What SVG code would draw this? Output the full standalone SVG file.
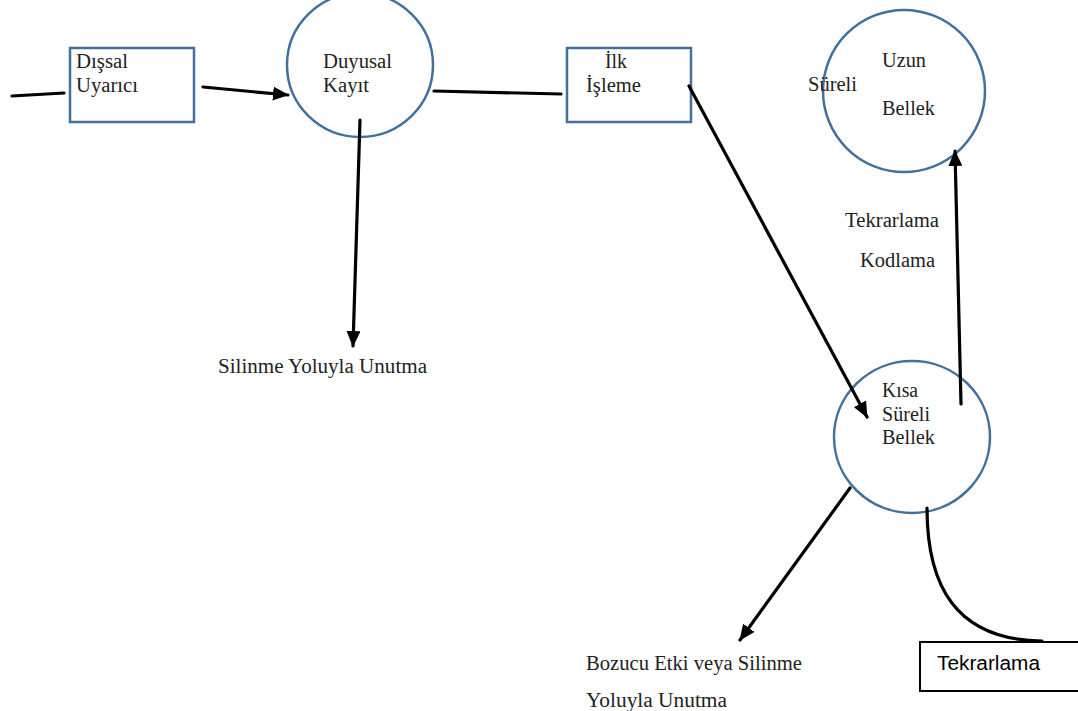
<svg xmlns="http://www.w3.org/2000/svg" width="1078" height="711" viewBox="0 0 1078 711">
<style>
.node{fill:#fff;stroke:#41719c;stroke-width:2.5}
.box{fill:#fff;stroke:#000;stroke-width:2}
.c{fill:none;stroke:#000;stroke-width:3.2;stroke-linecap:round}
.t{font-family:"Liberation Serif","Times New Roman",serif;font-size:20px;fill:#222}
.s{font-family:"Liberation Sans",Arial,sans-serif;font-size:20px;fill:#000}
</style>
<defs>
<marker id="ah" viewBox="0 0 16 14" refX="15" refY="7" markerWidth="16" markerHeight="14" markerUnits="userSpaceOnUse" orient="auto">
<path d="M0,0 L16,7 L0,14 Z" fill="#000"/>
</marker>
</defs>
<rect width="1078" height="711" fill="#fff"/>
<g id="disal-uyarici">
<rect class="node" x="70" y="48" width="124" height="74"/>
<text class="t" x="76" y="68" textLength="52" lengthAdjust="spacingAndGlyphs">Dışsal</text>
<text class="t" x="76" y="92" textLength="62" lengthAdjust="spacingAndGlyphs">Uyarıcı</text>
</g>
<g id="duyusal-kayit">
<ellipse class="node" cx="360" cy="65" rx="73" ry="72"/>
<text class="t" x="323" y="68" textLength="69" lengthAdjust="spacingAndGlyphs">Duyusal</text>
<text class="t" x="323" y="92" textLength="46" lengthAdjust="spacingAndGlyphs">Kayıt</text>
</g>
<g id="ilk-isleme">
<rect class="node" x="567" y="48" width="124" height="74"/>
<text class="t" x="605" y="68" textLength="22" lengthAdjust="spacingAndGlyphs">İlk</text>
<text class="t" x="586" y="92" textLength="55" lengthAdjust="spacingAndGlyphs">İşleme</text>
</g>
<g id="uzun-sureli-bellek">
<circle class="node" cx="904" cy="91" r="81"/>
<text class="t" x="882" y="67" textLength="44" lengthAdjust="spacingAndGlyphs">Uzun</text>
<text class="t" x="808" y="91" textLength="49" lengthAdjust="spacingAndGlyphs">Süreli</text>
<text class="t" x="882" y="115" textLength="53" lengthAdjust="spacingAndGlyphs">Bellek</text>
</g>
<g id="kisa-sureli-bellek">
<ellipse class="node" cx="912" cy="437" rx="78" ry="76"/>
<text class="t" x="882" y="397" textLength="36" lengthAdjust="spacingAndGlyphs">Kısa</text>
<text class="t" x="882" y="421" textLength="48" lengthAdjust="spacingAndGlyphs">Süreli</text>
<text class="t" x="882" y="444" textLength="53" lengthAdjust="spacingAndGlyphs">Bellek</text>
</g>
<g id="tekrarlama-box">
<rect class="box" x="920" y="642" width="170" height="49"/>
<text class="s" x="937" y="670" textLength="103" lengthAdjust="spacingAndGlyphs">Tekrarlama</text>
</g>
<g id="connectors">
<path class="c" d="M12,96 L64,93"/>
<path class="c" d="M203,87 L288,95" marker-end="url(#ah)"/>
<path class="c" d="M360,120 L353,346" marker-end="url(#ah)"/>
<path class="c" d="M434,91 L561,94"/>
<path class="c" d="M689,86 L867,417" marker-end="url(#ah)"/>
<path class="c" d="M961,404 L955,151" marker-end="url(#ah)"/>
<path class="c" d="M850,488 L740,640" marker-end="url(#ah)"/>
<path class="c" d="M927,508 C927,585 955,640 1042,641"/>
</g>
<g id="labels">
<text class="t" x="218" y="373" textLength="209" lengthAdjust="spacingAndGlyphs">Silinme Yoluyla Unutma</text>
<text class="t" x="845" y="227" textLength="94" lengthAdjust="spacingAndGlyphs">Tekrarlama</text>
<text class="t" x="860" y="267" textLength="75" lengthAdjust="spacingAndGlyphs">Kodlama</text>
<text class="t" x="586" y="670" textLength="216" lengthAdjust="spacingAndGlyphs">Bozucu Etki veya Silinme</text>
<text class="t" x="586" y="707" textLength="141" lengthAdjust="spacingAndGlyphs">Yoluyla Unutma</text>
</g>
</svg>
